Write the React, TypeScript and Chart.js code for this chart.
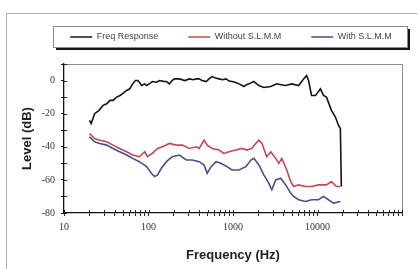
import React, { useEffect, useRef } from 'react';
import { Chart, registerables } from 'chart.js';

Chart.register(...registerables);

// ---- data ----
const seriesNames = ['Freq Response', 'Without S.L.M.M', 'With S.L.M.M'];

const freqRespHz = [20, 21, 23, 26, 29, 32, 35, 38, 42, 46, 49, 55, 60, 65, 70, 75, 83, 90, 95, 105, 111, 125, 135, 150, 163, 177, 190, 202, 232, 270, 304, 340, 367, 398, 430, 481, 520, 566, 620, 684, 750, 827, 900, 973, 1060, 1177, 1347, 1450, 1543, 1766, 2024, 2317, 2800, 3295, 3700, 4203, 4943, 5975, 6843, 7425, 7838, 8500, 9470, 10840, 11770, 12760, 14620, 16290, 17670, 18650, 19150];
const freqRespDb = [-24, -26, -20, -18, -15, -14, -12, -12, -10, -9, -8, -6, -5, -2, 0, 0, -3, -2, -3, -1.5, -0.6, -1, 0, -0.5, -0.6, -2, 0, 1, 1, 0, 1, 0.5, 1, 1, 0, -0.6, 1, 2.4, 1.5, 1, 0.5, 1, -0.3, -0.6, -1, -2, -3.6, -2.5, -2, -0.6, -3, -4.2, -3.6, -2, -2.5, -3, -2, -3, 1, 3, 0, -9, -9, -5, -9, -10, -18, -22, -27, -29, -64];

const withoutHz = [20, 23, 26.5, 32, 38, 45.5, 55, 65, 78, 90, 97, 111, 128, 146, 177, 212, 252, 304, 367, 398, 455, 495, 566, 684, 780, 895, 1080, 1277, 1462, 1670, 1860, 2024, 2200, 2510, 2800, 3200, 3480, 3780, 4330, 4820, 5220, 5975, 7225, 8500, 10280, 12760, 14620, 16730, 18650];
const withoutDb = [-32, -35, -36, -37, -39, -41, -43, -45, -46, -43, -46, -44, -41, -40, -38, -39, -39, -41, -40, -41, -36, -39, -41, -42, -44, -43, -42, -41, -42, -41, -38, -36, -38, -46, -43, -47, -50, -47, -54, -61, -64, -63, -64, -64, -63, -63, -61, -64, -64];

const withHz = [20, 23, 26.5, 32, 38, 45.5, 55, 65, 78, 95, 108, 118, 128, 142, 163, 191, 232, 280, 330, 398, 455, 495, 550, 630, 716, 850, 973, 1177, 1420, 1630, 1766, 2024, 2317, 2650, 2880, 3200, 3670, 4200, 4820, 5220, 5975, 7225, 8500, 10280, 11770, 13470, 15430, 18650];
const withDb = [-34, -37, -38, -39, -41, -43, -45, -47, -49, -52, -56, -58, -57, -53, -49, -46, -45, -48, -48, -49, -51, -56, -52, -49, -50, -52, -54, -54, -52, -48, -47, -51, -57, -62, -66, -60, -59, -63, -68, -70, -72, -73, -72, -72, -70, -72, -74, -73];

const xTickValues = [10, 20, 30, 40, 50, 60, 70, 80, 90, 100, 200, 300, 400, 500, 600, 700, 800, 900, 1000, 2000, 3000, 4000, 5000, 6000, 7000, 8000, 9000, 10000, 20000, 30000, 40000, 50000, 60000, 70000, 80000, 90000, 100000];
const xLabelValues = [10, 100, 1000, 10000];
const xTickLabels = ['10', '100', '1000', '10000'];
const yLabelValues = [0, -20, -40, -60, -80];
const yTickLabels = ['0', '-20', '-40', '-60', '-80'];

const colors = ['#141414', '#cc4450', '#46508a'];

const toPoints = (xs: number[], ys: number[]) => xs.map((x, i) => ({ x, y: ys[i] }));

const legendSpacer = {
  id: 'legendSpacer',
  beforeInit(chart: any) {
    const lg = chart.legend;
    if (lg && !lg._patched) {
      const orig = lg.fit;
      lg.fit = function () {
        orig.call(this);
        this.height += 12.5;
      };
      lg._patched = true;
    }
  },
  afterLayout(chart: any) {
    const lg = chart.legend;
    if (lg) {
      lg.left += 22;
      lg.right += 22;
    }
  },
};

const framePlugin = {
  id: 'frame',
  beforeDraw(chart: any) {
    const { ctx, chartArea, legend, width, height } = chart;
    ctx.save();
    ctx.fillStyle = '#ffffff';
    ctx.fillRect(0, 0, width, height);
    // outer frame (left and top edges visible)
    ctx.strokeStyle = '#b0b0b0';
    ctx.lineWidth = 1;
    ctx.beginPath();
    ctx.moveTo(6.5, height);
    ctx.lineTo(6.5, 13.5);
    ctx.lineTo(width - 3, 13.5);
    ctx.stroke();
    // legend box with shadow
    if (legend) {
      const pad = legend.options.labels.padding;
      const cy = legend.top + pad + 4.5;
      const l = chartArea.left - 11;
      const r = chartArea.right + 5;
      const t = cy - 11;
      const b = cy + 10;
      ctx.fillStyle = '#151515';
      ctx.fillRect(l + 3, t + 3, r - l, b - t);
      ctx.fillStyle = '#ffffff';
      ctx.fillRect(l, t, r - l, b - t);
      ctx.strokeStyle = '#8a8a8a';
      ctx.strokeRect(l + 0.5, t + 0.5, r - l, b - t);
    }
    ctx.restore();
  },
  beforeDatasetsDraw(chart: any) {
    const { ctx, chartArea } = chart;
    ctx.save();
    ctx.strokeStyle = '#8c8c8c';
    ctx.lineWidth = 1;
    ctx.beginPath();
    ctx.moveTo(chartArea.left, chartArea.top + 0.5);
    ctx.lineTo(chartArea.right + 0.5, chartArea.top + 0.5);
    ctx.lineTo(chartArea.right + 0.5, chartArea.bottom);
    ctx.stroke();
    ctx.restore();
  },
  afterDraw(chart: any) {
    const { ctx, chartArea } = chart;
    const xs = chart.scales.x;
    const ys = chart.scales.y;
    ctx.save();
    ctx.strokeStyle = '#222';
    ctx.lineWidth = 1;
    ctx.beginPath();
    xs.ticks.forEach((_t: any, i: number) => {
      const px = Math.round(xs.getPixelForTick(i)) + 0.5;
      ctx.moveTo(px, chartArea.bottom);
      ctx.lineTo(px, chartArea.bottom - 3);
    });
    ys.ticks.forEach((_t: any, i: number) => {
      const py = Math.round(ys.getPixelForTick(i)) + 0.5;
      ctx.moveTo(chartArea.left, py);
      ctx.lineTo(chartArea.left + 3, py);
    });
    ctx.stroke();
    ctx.restore();
  },
};

export default function App() {
  const ref = useRef<HTMLCanvasElement | null>(null);

  useEffect(() => {
    if (!ref.current) return;
    const datasets = [
      toPoints(freqRespHz, freqRespDb),
      toPoints(withoutHz, withoutDb),
      toPoints(withHz, withDb),
    ].map((data, i) => ({
      label: seriesNames[i],
      data,
      borderColor: colors[i],
      backgroundColor: colors[i],
      borderWidth: 1.6,
      pointRadius: 0,
      tension: 0,
    }));

    const chart = new Chart(ref.current, {
      type: 'line',
      data: { datasets },
      plugins: [legendSpacer, framePlugin],
      options: {
        responsive: false,
        animation: false,
        devicePixelRatio: 1,
        layout: { padding: { left: 16, right: 18, top: 2.5, bottom: 1.7 } },
        plugins: {
          tooltip: { enabled: false },
          legend: {
            display: true,
            position: 'top',
            labels: {
              usePointStyle: true,
              pointStyle: 'line',
              pointStyleWidth: 22,
              boxHeight: 9,
              padding: 30,
              color: '#444',
              font: { family: 'Liberation Sans', size: 9 },
            },
          },
        },
        scales: {
          x: {
            type: 'logarithmic',
            position: 'bottom',
            min: 10,
            max: 100000,
            afterBuildTicks: (s: any) => {
              s.ticks = xTickValues.map((v) => ({ value: v }));
            },
            afterFit: (s: any) => {
              s.height = 54.3;
            },
            grid: { drawOnChartArea: false, drawTicks: true, tickLength: 3, color: '#222', lineWidth: 1 },
            border: { display: true, color: '#111', width: 1.3 },
            ticks: {
              autoSkip: false,
              maxRotation: 0,
              padding: 5,
              color: '#333',
              font: { family: 'Liberation Serif', size: 10 },
              callback: (v: any) => {
                const k = xLabelValues.indexOf(Number(v));
                return k >= 0 ? xTickLabels[k] : '';
              },
            },
            title: {
              display: true,
              text: 'Frequency (Hz)',
              color: '#222',
              font: { family: 'Liberation Sans', size: 13, weight: 'bold' },
              padding: { top: 4, bottom: 4 },
            },
          },
          y: {
            type: 'linear',
            position: 'left',
            min: -80,
            max: 10,
            afterFit: (s: any) => {
              s.width = 48;
            },
            grid: { drawOnChartArea: false, drawTicks: true, tickLength: 3, color: '#222', lineWidth: 1 },
            border: { display: true, color: '#111', width: 1.3 },
            ticks: {
              stepSize: 10,
              padding: 6,
              color: '#333',
              font: { family: 'Liberation Serif', size: 10 },
              callback: (v: any) => {
                const k = yLabelValues.indexOf(Number(v));
                return k >= 0 ? yTickLabels[k] : '';
              },
            },
            title: {
              display: true,
              text: 'Level (dB)',
              color: '#222',
              font: { family: 'Liberation Sans', size: 13, weight: 'bold' },
              padding: { top: 4, bottom: 4 },
            },
          },
        },
      } as any,
    });
    return () => chart.destroy();
  }, []);

  return (
    <div style={{ position: 'fixed', left: 0, top: 0, width: 420, height: 269 }}>
      <canvas ref={ref} width={420} height={269} style={{ display: 'block' }} />
    </div>
  );
}
